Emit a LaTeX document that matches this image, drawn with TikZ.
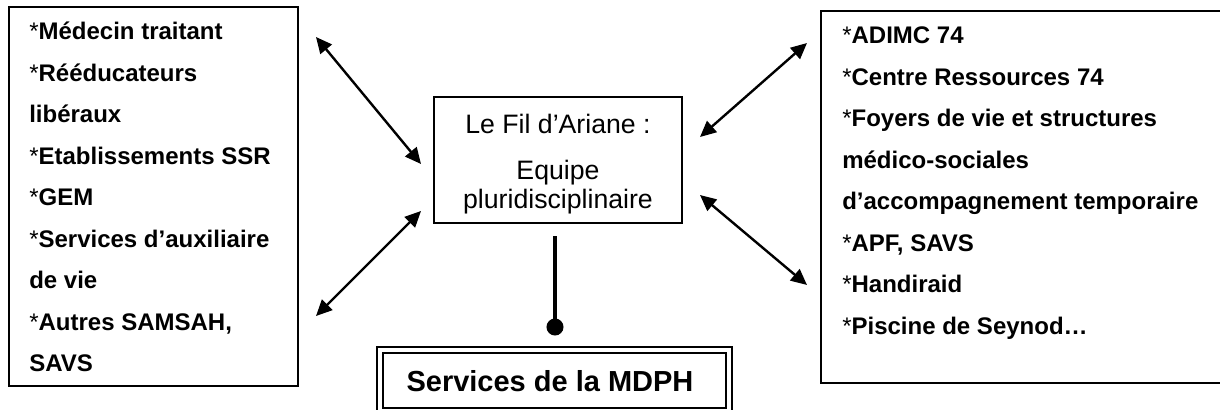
\documentclass[tikz,border=0pt]{standalone}
\usepackage{fontspec}
\setmainfont{Liberation Sans}
\usetikzlibrary{arrows.meta}
\tikzset{
  frame/.style={draw, line width=1.5pt, inner sep=0pt},
  item/.style={anchor=base west, inner sep=0pt, font=\fontsize{18}{20}\selectfont},
  mid/.style={anchor=base, inner sep=0pt, font=\fontsize{20}{22}\selectfont},
  link/.style={line width=1.8pt, {Triangle[length=12pt,width=11pt]}-{Triangle[length=12pt,width=11pt]}},
}
\begin{document}
\begin{tikzpicture}[x=0.75pt,y=-0.75pt]
\clip (0,0) rectangle (1220,410);
\fill[white] (0,0) rectangle (1220,410);
% boxes
\node[frame, minimum width=216.75pt, minimum height=284.25pt] (lbox) at (153.5,196.5) {};
\node[frame, minimum width=306.75pt, minimum height=279pt] (rbox) at (1025.5,197) {};
\node[frame, minimum width=186pt, minimum height=94.5pt] (cbox) at (558,160) {};
\node[draw, double, double distance=3pt, line width=1.5pt, inner sep=0pt,
      minimum width=261.75pt, minimum height=45.4pt] (mdph) at (554.5,380.75) {};
\node[anchor=base, inner sep=0pt, font=\fontsize{21.75}{24}\selectfont\bfseries] (mdphtxt) at (550,391) {Services de la MDPH};
% left texts
\node[item] (l1) at (29,39.5) {*\textbf{Médecin traitant}};
\node[item] (l2) at (29,81.0) {*\textbf{Rééducateurs}};
\node[item] (l3) at (29,122.6) {\textbf{libéraux}};
\node[item] (l4) at (29,164.1) {*\textbf{Etablissements SSR}};
\node[item] (l5) at (29,205.6) {*\textbf{GEM}};
\node[item] (l6) at (29,247.2) {*\textbf{Services d’auxiliaire}};
\node[item] (l7) at (29,288.7) {\textbf{de vie}};
\node[item] (l8) at (29,330.2) {*\textbf{Autres SAMSAH,}};
\node[item] (l9) at (29,371.7) {\textbf{SAVS}};
% right texts
\node[item] (r1) at (842,44.0) {*\textbf{ADIMC 74}};
\node[item] (r2) at (842,85.5) {*\textbf{Centre Ressources 74}};
\node[item] (r3) at (842,126.9) {*\textbf{Foyers de vie et structures}};
\node[item] (r4) at (842,168.4) {\textbf{médico-sociales}};
\node[item] (r5) at (842,209.9) {\textbf{d’accompagnement temporaire}};
\node[item] (r6) at (842,251.4) {*\textbf{APF, SAVS}};
\node[item] (r7) at (842,292.8) {*\textbf{Handiraid}};
\node[item] (r8) at (842,334.3) {*\textbf{Piscine de Seynod…}};
% center texts
\node[mid] (c1) at (558,133) {Le Fil d’Ariane :};
\node[mid] (c2) at (558,179) {Equipe};
\node[mid] (c3) at (558,208) {pluridisciplinaire};
% arrow ends
\coordinate (a1) at (316,37);  \coordinate (a2) at (421,164);
\coordinate (a3) at (316,316); \coordinate (a4) at (421,211);
\coordinate (a5) at (807,43);  \coordinate (a6) at (700,137);
\coordinate (a7) at (807,285); \coordinate (a8) at (700,195);
\draw[link] (a1) -- (a2);
\draw[link] (a3) -- (a4);
\draw[link] (a5) -- (a6);
\draw[link] (a7) -- (a8);
% link to MDPH
\coordinate (dot) at (555,327);
\draw[line width=3.4pt, shorten <=9pt] ([xshift=-2.25pt]cbox.south) -- (dot);
\fill (dot) circle (6.4pt);
\end{tikzpicture}
\end{document}
